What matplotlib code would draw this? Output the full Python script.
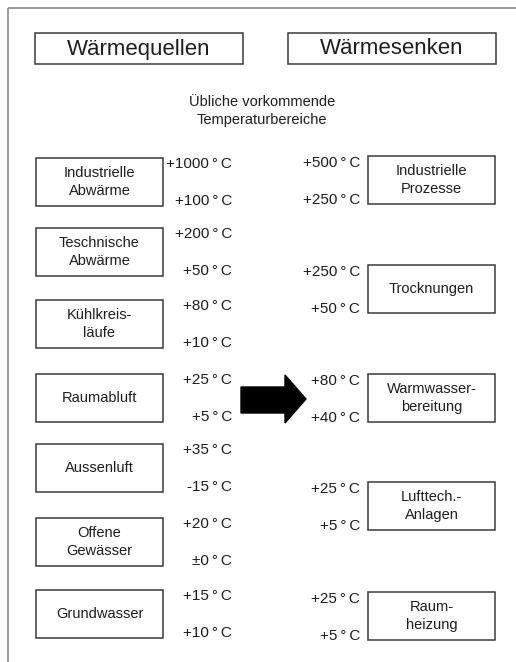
import matplotlib.pyplot as plt
from matplotlib.patches import Rectangle, Polygon

plt.rcParams['font.family'] = ['Liberation Sans', 'DejaVu Sans']

# Daten
quellen = ["Industrielle\nAbwärme", "Teschnische\nAbwärme", "Kühlkreis-\nläufe",
           "Raumabluft", "Aussenluft", "Offene\nGewässer", "Grundwasser"]
quellen_max = ["+1000", "+200", "+80", "+25", "+35", "+20", "+15"]
quellen_min = ["+100", "+50", "+10", "+5", "-15", "\u00b10", "+10"]

senken = ["Industrielle\nProzesse", "Trocknungen", "Warmwasser-\nbereitung",
          "Lufttech.-\nAnlagen", "Raum-\nheizung"]
senken_max = ["+500", "+250", "+80", "+25", "+25"]
senken_min = ["+250", "+50", "+40", "+5", "+5"]

# Layout (Pixel)
W, H = 516, 662
quellen_top = [158, 228, 300, 374, 444, 518, 590]
senken_top = [156, 265, 374, 482, 592]
box_h = 48
edge = '#3a3a3a'
txt = '#1e1e1e'


def temp(t):
    return t + "\u2009\u00b0\u2009C"


fig = plt.figure(figsize=(W / 100, H / 100), dpi=100)
ax = fig.add_axes([0, 0, 1, 1])
ax.set_xlim(0, W)
ax.set_ylim(H, 0)
ax.axis('off')

# Rahmen
ax.add_patch(Rectangle((7.5, 7.5), W + 20, H + 20, fill=False, ec='#8a8a8a', lw=1.2))

# Überschriften
for x0, label in [(35, "Wärmequellen"), (288, "Wärmesenken")]:
    ax.add_patch(Rectangle((x0, 33), 208, 31, fill=False, ec=edge, lw=1.1))
    ax.text(x0 + 104, 49, label, ha='center', va='center', fontsize=16, color=txt)

ax.text(262, 111, "Übliche vorkommende\nTemperaturbereiche", ha='center', va='center',
        fontsize=10.5, color=txt, linespacing=1.3)

# Wärmequellen
for i, name in enumerate(quellen):
    y = quellen_top[i]
    ax.add_patch(Rectangle((36, y), 127, box_h, fill=False, ec=edge, lw=1.1))
    ax.text(99.5, y + box_h / 2, name, ha='center', va='center', fontsize=10.5,
            color=txt, linespacing=1.3)
    ax.text(232, y + 6, temp(quellen_max[i]), ha='right', va='center', fontsize=11, color=txt)
    ax.text(232, y + 43, temp(quellen_min[i]), ha='right', va='center', fontsize=11, color=txt)

# Wärmesenken
for i, name in enumerate(senken):
    y = senken_top[i]
    ax.add_patch(Rectangle((368, y), 127, box_h, fill=False, ec=edge, lw=1.1))
    ax.text(431.5, y + box_h / 2, name, ha='center', va='center', fontsize=10.5,
            color=txt, linespacing=1.3)
    ax.text(360, y + 7, temp(senken_max[i]), ha='right', va='center', fontsize=11, color=txt)
    ax.text(360, y + 44, temp(senken_min[i]), ha='right', va='center', fontsize=11, color=txt)

# Pfeil
pfeil = [(241, 387), (285, 387), (285, 375), (306, 399), (285, 423), (285, 413), (241, 413)]
ax.add_patch(Polygon(pfeil, closed=True, fc='black', ec='black'))

fig.savefig('out.png', dpi=100)
